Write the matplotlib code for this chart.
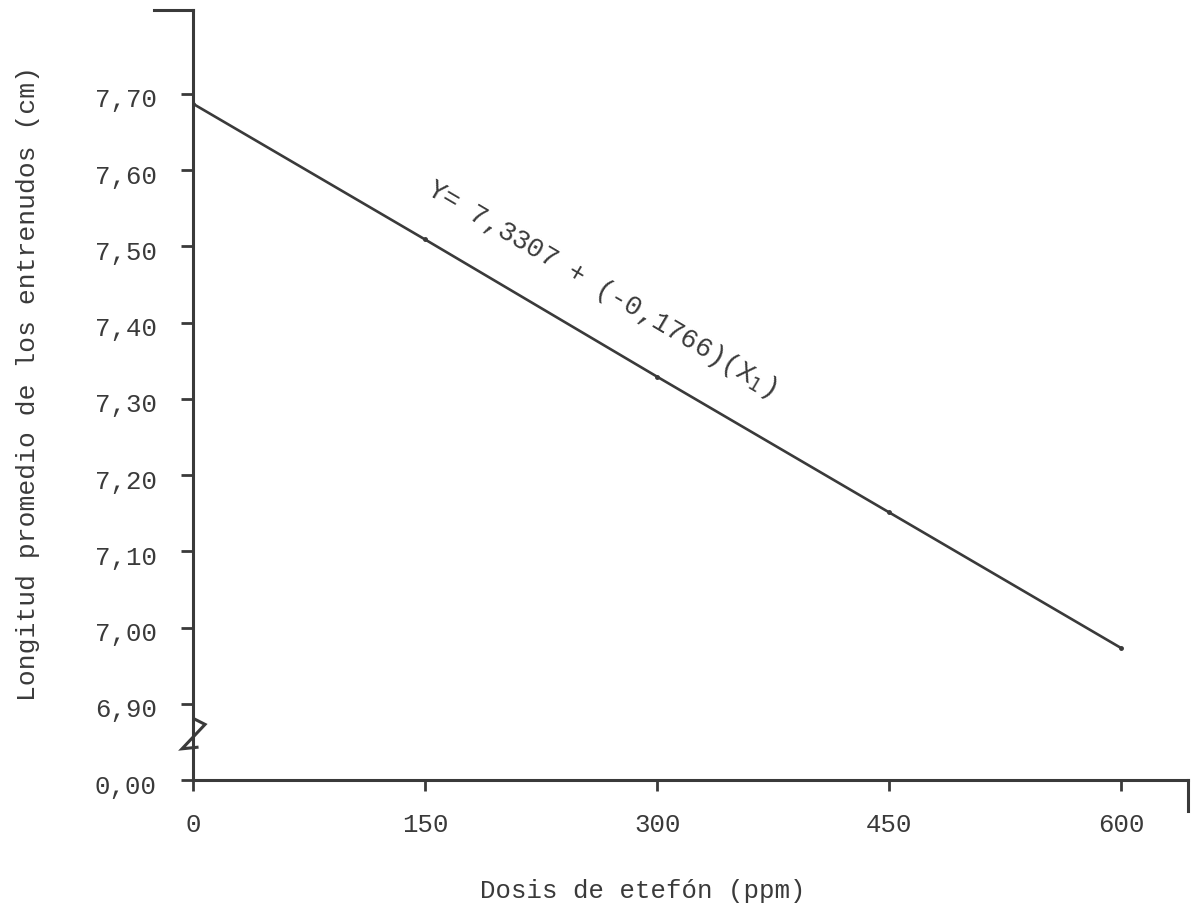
import matplotlib
matplotlib.use("Agg")
import matplotlib.pyplot as plt
import matplotlib.transforms as mtrans

# --- Datos ---------------------------------------------------------------
dosis = [0, 150, 300, 450, 600]
longitud = [7.687, 7.509, 7.329, 7.151, 6.973]

y_ticks = [6.80, 6.90, 7.00, 7.10, 7.20, 7.30, 7.40, 7.50, 7.60, 7.70]
y_labels = ["0,00", "6,90", "7,00", "7,10", "7,20", "7,30", "7,40", "7,50", "7,60", "7,70"]
x_ticks = [0, 150, 300, 450, 600]
x_labels = ["0", "150", "300", "450", "600"]

ecuacion = r"Y= 7,3307 + (-0,1766)(X$_1$)"

ink = "#3a3a3a"
plt.rcParams["font.family"] = ["Liberation Mono", "DejaVu Sans Mono"]

fig = plt.figure(figsize=(11.95, 9.06), dpi=100)
ax = fig.add_axes([0.1615, 0.139, 0.8325, 0.85])

ax.plot(dosis, longitud, color=ink, lw=1.9, marker="o", ms=2.5)

ax.set_xlim(0, 643)
ax.set_ylim(6.80, 7.81)

ax.set_xticks(x_ticks)
ax.set_xticklabels(x_labels)
ax.set_yticks(y_ticks)
ax.set_yticklabels(y_labels)

for s in ["top", "right"]:
    ax.spines[s].set_visible(False)
for s in ["left", "bottom"]:
    ax.spines[s].set_linewidth(2.2)
    ax.spines[s].set_color(ink)

ax.tick_params(axis="y", direction="out", length=9, width=2, color=ink,
               labelsize=18.5, labelcolor=ink, pad=17)
ax.tick_params(axis="x", direction="out", length=8, width=2, color=ink,
               labelsize=18.5, labelcolor=ink, pad=16)

# las etiquetas del eje y quedan algo por debajo de la marca (maquina de escribir)
shift = mtrans.ScaledTranslation(0, -4 / 100, fig.dpi_scale_trans)
for lab in ax.get_yticklabels():
    lab.set_transform(lab.get_transform() + shift)

# tope del eje y y remate del eje x
ax.plot([-25, 0], [7.81, 7.81], color=ink, lw=2.2, clip_on=False)
ax.plot([643, 643], [6.80, 6.76], color=ink, lw=2.2, clip_on=False)

# corte del eje y
ax.plot([1, 7.8, -7.1, 2.6], [6.880, 6.873, 6.841, 6.843],
        color=ink, lw=2.2, clip_on=False, solid_joinstyle="miter")

ax.text(150, 7.570, ecuacion, rotation=-30.5, rotation_mode="anchor",
        fontsize=19.5, color=ink, ha="left", va="baseline")

ax.set_xlabel("Dosis de etefón (ppm)", fontsize=18.5, color=ink)
ax.xaxis.set_label_coords(0.452, -0.128)
ax.set_ylabel("Longitud promedio de los entrenudos (cm)", fontsize=19,
              color=ink)
ax.yaxis.set_label_coords(-0.154, 0.515)

fig.savefig("out.png", dpi=100, facecolor="white")
